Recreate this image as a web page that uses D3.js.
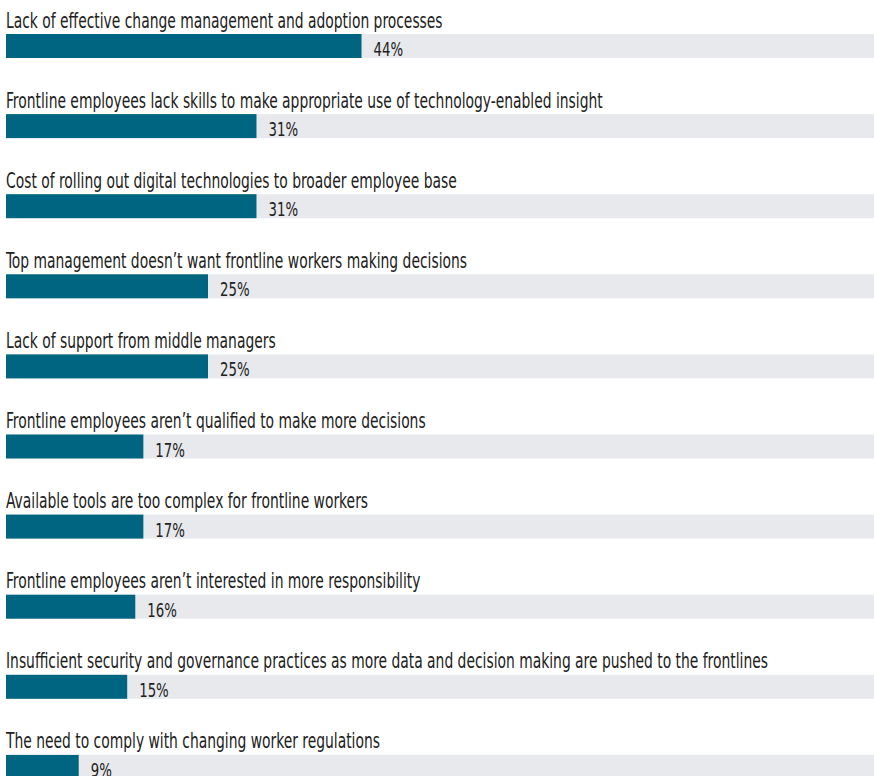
<!DOCTYPE html>
<html>
<head>
<meta charset="utf-8">
<script src="https://cdn.jsdelivr.net/npm/d3@7"></script>
<style>
  html, body { margin: 0; padding: 0; background: #fff; }
  svg { display: block; }
  .cat, .val { font-family: "DejaVu Sans Condensed", "DejaVu Sans", sans-serif; fill: #222; }
</style>
</head>
<body>
<svg id="chart" width="874" height="776"></svg>
<script>
// Obstacles to pushing decisions to frontline workers (% of respondents)
const categories = [
  "Lack of effective change management and adoption processes",
  "Frontline employees lack skills to make appropriate use of technology-enabled insight",
  "Cost of rolling out digital technologies to broader employee base",
  "Top management doesn\u2019t want frontline workers making decisions",
  "Lack of support from middle managers",
  "Frontline employees aren\u2019t qualified to make more decisions",
  "Available tools are too complex for frontline workers",
  "Frontline employees aren\u2019t interested in more responsibility",
  "Insufficient security and governance practices as more data and decision making are pushed to the frontlines",
  "The need to comply with changing worker regulations"
];
const values = [44, 31, 31, 25, 25, 17, 17, 16, 15, 9];

const W = 874, H = 776;
const left = 6, rowH = 80.1, barTop = 34, barH = 24;
// narrow set type: horizontal compression of the condensed face
const catSquash = 0.735, valSquash = 0.74;

const svg = d3.select("#chart");

const x = d3.scaleLinear().domain([0, 100]).range([left, left + 808]);
const y = d3.scaleBand().domain(categories).range([barTop, barTop + rowH * categories.length]).paddingInner(0).paddingOuter(0);

const rows = svg.selectAll("g.row")
  .data(categories.map((c, i) => ({ c, v: values[i] })))
  .join("g")
  .attr("class", "row")
  .attr("transform", d => `translate(0,${y(d.c)})`);

// background track
rows.append("rect")
  .attr("x", left)
  .attr("y", 0)
  .attr("width", W - left)
  .attr("height", barH)
  .attr("fill", "#e7e9ec");

// value bar
rows.append("rect")
  .attr("x", x(0))
  .attr("y", 0)
  .attr("width", d => x(d.v) - x(0))
  .attr("height", barH)
  .attr("fill", "#006580");

// category label
rows.append("text")
  .attr("class", "cat")
  .attr("transform", `translate(${left},-6.5) scale(${catSquash},1)`)
  .attr("font-size", 21)
  .text(d => d.c);

// value label
rows.append("text")
  .attr("class", "val")
  .attr("transform", d => `translate(${x(d.v) + 12},22) scale(${valSquash},1)`)
  .attr("font-size", 20)
  .text(d => d.v + "%");
</script>
</body>
</html>
